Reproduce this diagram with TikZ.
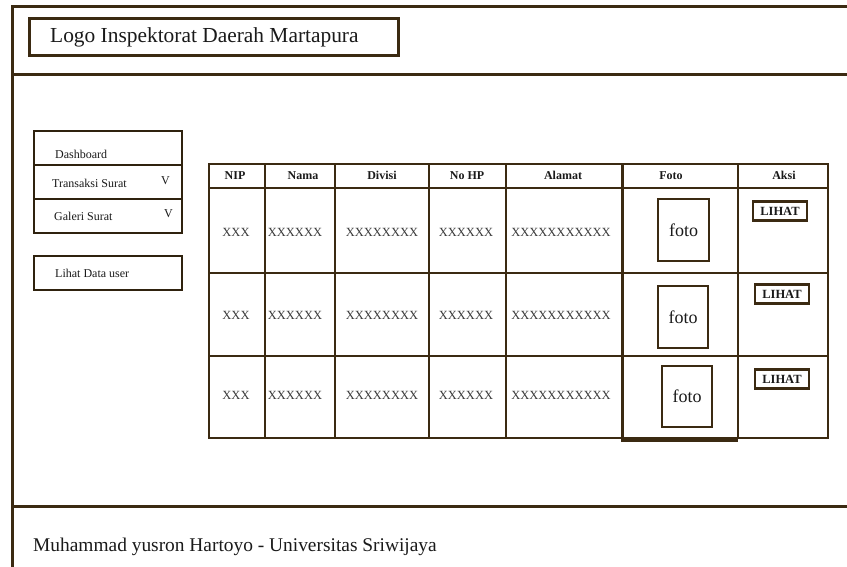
\documentclass[tikz,border=0pt]{standalone}
\usepackage{fontspec}
\setmainfont{Liberation Serif}
\definecolor{ink}{HTML}{3B2A12}
\definecolor{txt}{HTML}{1A1A1A}
\definecolor{cellgray}{HTML}{3A3A3A}

\begin{document}
\begin{tikzpicture}[x=1pt,y=-1pt,
  frame/.style={draw=ink,line width=3pt},
  grid/.style={draw=ink,line width=2.6pt},
  side/.style={draw=ink!80!black,line width=1.2pt},
  hdr/.style={font=\fontsize{12}{14}\selectfont\bfseries,text=txt,inner sep=0pt,
    text height=8pt,text depth=2pt},
  cell/.style={font=\fontsize{12.5}{14}\selectfont,text=cellgray,inner sep=0pt},
  menu/.style={font=\fontsize{12}{14}\selectfont,text=txt,inner sep=0pt,anchor=west},
  photo/.style={draw=ink,line width=2.5pt,font=\fontsize{18}{20}\selectfont,text=txt},
  btn/.style={draw=ink,line width=2.5pt,font=\fontsize{12.5}{14}\selectfont\bfseries,text=txt,
    minimum width=54pt,minimum height=19pt,inner sep=0pt}
]
\useasboundingbox[fill=white] (0,0) rectangle (847,567);

% page frame: top edge, left edge, header and footer separators
\draw[frame] (847,7) -- (12,7) -- (12,567);
\draw[frame] (12,75) -- (847,75);
\draw[frame] (12,506) -- (847,506);

% logo box
\draw[frame] (29.5,18.5) rectangle (398.5,55.5);
\node[anchor=west,inner sep=0pt,font=\fontsize{21.4}{24}\selectfont,text=txt] (logo) at (50,37) {Logo Inspektorat Daerah Martapura};

% sidebar menu
\draw[side] (34,131) rectangle (182,233);
\draw[side] (34,165) -- (182,165);
\draw[side] (34,199) -- (182,199);
\draw[side] (34,256) rectangle (182,290);
\node[menu] (m1) at (55,154) {Dashboard};
\node[menu] (m2) at (52,183) {Transaksi Surat};
\node[menu] (m2v) at (161,181) {V};
\node[menu] (m3) at (54,216) {Galeri Surat};
\node[menu] (m3v) at (164,214) {V};
\node[menu] (m4) at (55,273) {Lihat Data user};

% table grid
\draw[grid] (209,164) rectangle (828,438);
\draw[grid] (209,188) -- (828,188);
\draw[grid] (209,273) -- (828,273);
\draw[grid] (209,356) -- (828,356);
\foreach \cx in {265,335,429,506,738}
  \draw[grid] (\cx,164) -- (\cx,438);
\draw[draw=ink,line width=3pt] (622,164) -- (622,440) -- (738,440);

% header row
\node[hdr] (hNIP) at (235,177) {NIP};
\node[hdr] (hNama) at (303,177) {Nama};
\node[hdr] (hDivisi) at (382,177) {Divisi};
\node[hdr] (hHP) at (467,177) {No HP};
\node[hdr] (hAlamat) at (563,177) {Alamat};
\node[hdr] (hFoto) at (671,177) {Foto};
\node[hdr] (hAksi) at (784,177) {Aksi};

% data rows
\foreach \r/\ry in {1/232,2/315,3/395}{
  \node[cell] (nip\r) at (236,\ry) {XXX};
  \node[cell] (nama\r) at (295,\ry) {XXXXXX};
  \node[cell] (divisi\r) at (382,\ry) {XXXXXXXX};
  \node[cell] (hp\r) at (466,\ry) {XXXXXX};
  \node[cell] (alamat\r) at (561,\ry) {XXXXXXXXXXX};
}

% photo placeholders
\node[photo,minimum width=51pt,minimum height=62pt,inner sep=0pt] (foto1) at (683.5,230) {foto};
\node[photo,minimum width=50pt,minimum height=62pt,inner sep=0pt] (foto2) at (683,317) {foto};
\node[photo,minimum width=50pt,minimum height=61pt,inner sep=0pt] (foto3) at (687,396.5) {foto};

% action buttons
\node[btn] (lihat1) at (780,211) {LIHAT};
\node[btn] (lihat2) at (782,294) {LIHAT};
\node[btn] (lihat3) at (782,379) {LIHAT};

% footer
\node[anchor=west,inner sep=0pt,font=\fontsize{19.4}{22}\selectfont,text=txt] (footer) at (33,547) {Muhammad yusron Hartoyo - Universitas Sriwijaya};
\end{tikzpicture}
\end{document}
